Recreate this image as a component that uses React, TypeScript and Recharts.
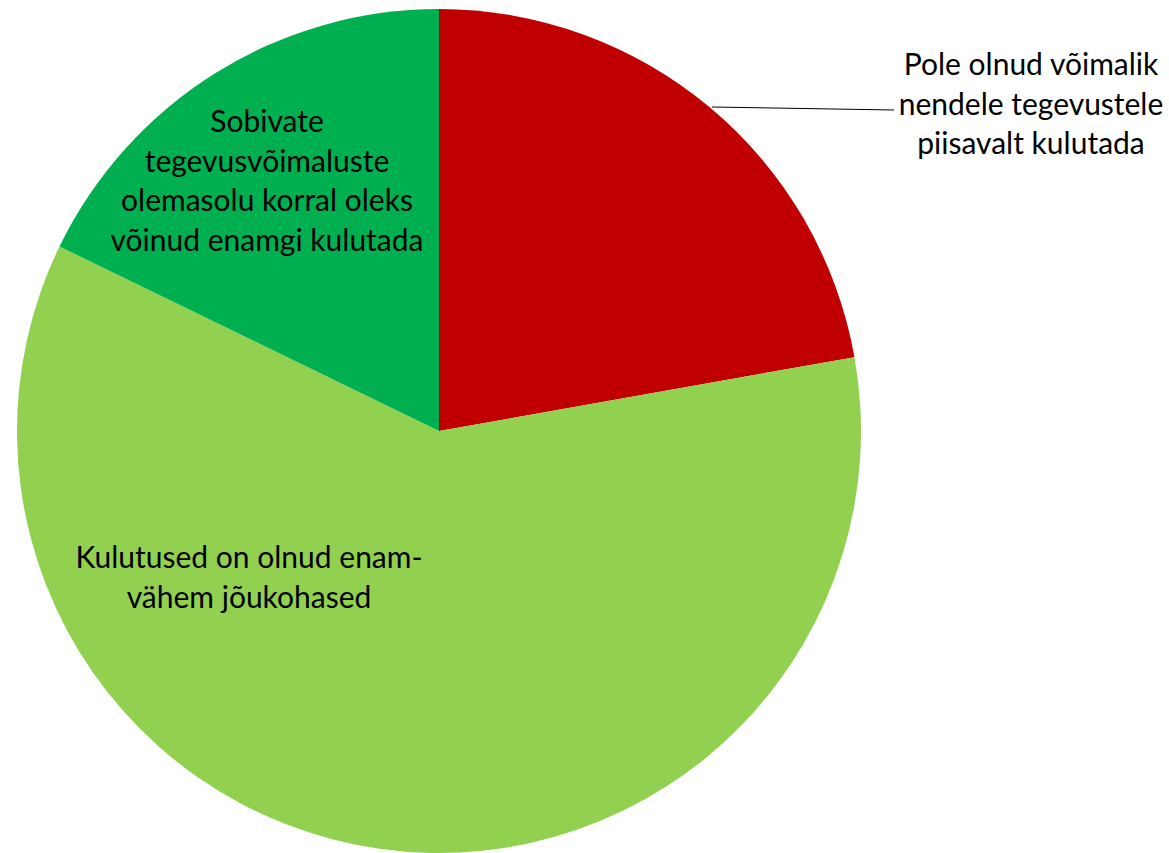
import { PieChart, Pie, Cell } from 'recharts';

const categories = [
  'Pole olnud võimalik nendele tegevustele piisavalt kulutada',
  'Kulutused on olnud enam-vähem jõukohased',
  'Sobivate tegevusvõimaluste olemasolu korral oleks võinud enamgi kulutada',
];
const values = [22.2, 60.0, 17.8];
const labelLines = [
  ['Pole olnud võimalik', 'nendele tegevustele', 'piisavalt kulutada'],
  ['Kulutused on olnud enam-', 'vähem jõukohased'],
  ['Sobivate', 'tegevusvõimaluste', 'olemasolu korral oleks', 'võinud enamgi kulutada'],
];
const colors = ['#C00000', '#92D050', '#00B050'];

const data = categories.map((name, i) => ({ name, value: values[i] }));

// label anchor offsets from the pie centre (first baseline), plus leader line for the first one
const labelSpots = [
  { dx: 592, dy: -356, leader: true },
  { dx: -190, dy: 137, leader: false },
  { dx: -172, dy: -299, leader: false },
];

const LINE_H = 39.5;

const renderLabel = (props: any) => {
  const { cx, cy, index } = props;
  const spot = labelSpots[index];
  const x = cx + spot.dx;
  const y = cy + spot.dy;
  return (
    <g key={`lbl-${index}`}>
      {spot.leader && (
        <line x1={cx + 273} y1={cy - 324} x2={cx + 455} y2={cy - 321} stroke="#000" strokeWidth={1} />
      )}
      <text x={x} y={y} textAnchor="middle" fill="#000" fontSize={30} fontFamily="Lato, 'Open Sans', sans-serif">
        {labelLines[index].map((t, j) => (
          <tspan key={j} x={x} y={y + j * LINE_H}>
            {t}
          </tspan>
        ))}
      </text>
    </g>
  );
};

export default function App() {
  return (
    <div style={{ position: 'absolute', left: 0, top: 0, background: '#fff' }}>
      <PieChart width={1169} height={853} margin={{ top: 0, right: 0, bottom: 0, left: 0 }}>
        <Pie
          data={data}
          dataKey="value"
          nameKey="name"
          cx={439}
          cy={431}
          outerRadius={422}
          startAngle={90}
          endAngle={-270}
          stroke="none"
          label={renderLabel}
          labelLine={false}
          isAnimationActive={false}
        >
          {data.map((d, i) => (
            <Cell key={d.name} fill={colors[i]} />
          ))}
        </Pie>
      </PieChart>
    </div>
  );
}
